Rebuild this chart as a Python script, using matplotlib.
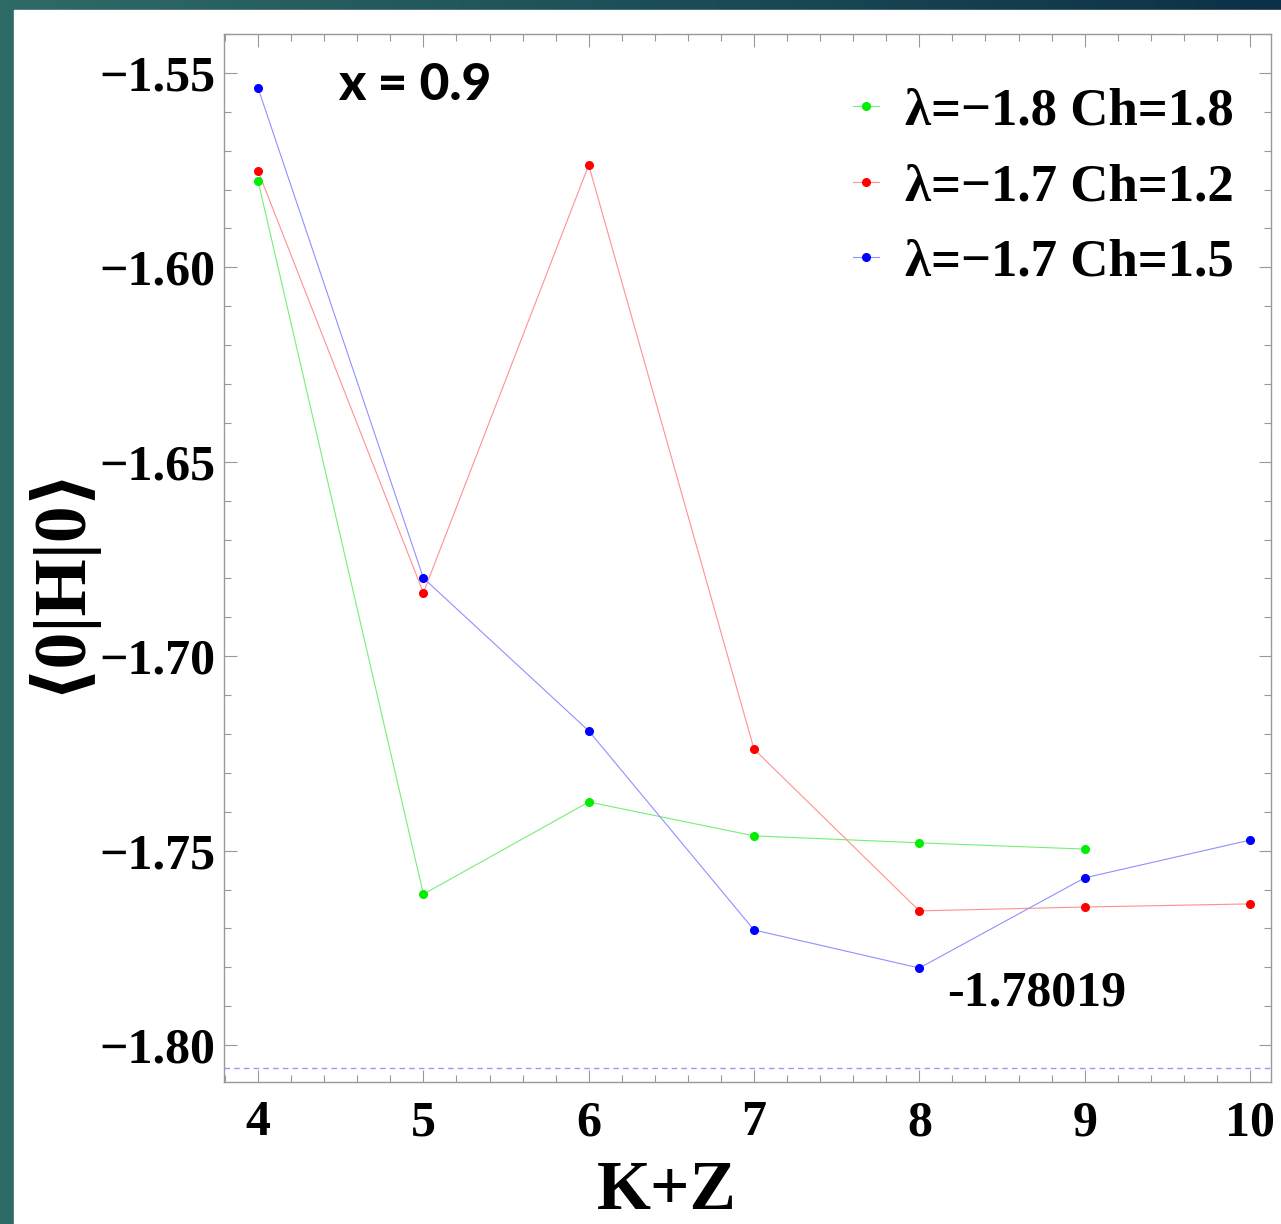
import numpy as np
import matplotlib
matplotlib.use("Agg")
import matplotlib.pyplot as plt
from matplotlib.colors import LinearSegmentedColormap
from matplotlib.ticker import MultipleLocator
from matplotlib.lines import Line2D

# ---- data ----
kz_green = [4, 5, 6, 7, 8, 9]
e_green = [-1.5778, -1.7612, -1.7375, -1.7462, -1.7480, -1.7496]
kz_red = [4, 5, 6, 7, 8, 9, 10]
e_red = [-1.5752, -1.6837, -1.5737, -1.7239, -1.7655, -1.7645, -1.7637]
kz_blue = [4, 5, 6, 7, 8, 9, 10]
e_blue = [-1.5539, -1.6799, -1.7192, -1.7704, -1.78019, -1.7570, -1.7473]
labels = ["λ=−1.8 Ch=1.8", "λ=−1.7 Ch=1.2", "λ=−1.7 Ch=1.5"]
ref_line = -1.8059
annot_text = "-1.78019"
xticks = [4, 5, 6, 7, 8, 9, 10]
yticks = [-1.80, -1.75, -1.70, -1.65, -1.60, -1.55]

W, H = 1281, 1224
fig = plt.figure(figsize=(W / 100, H / 100), dpi=100)

# background gradient frame
bg = fig.add_axes([0, 0, 1, 1], zorder=-10)
cmap = LinearSegmentedColormap.from_list("bg", ["#2f6b66", "#1d4f58", "#0c3046"])
grad = np.linspace(0, 1, 256)[None, :]
bg.imshow(grad, aspect="auto", cmap=cmap, extent=[0, 1, 0, 1])
bg.add_patch(plt.Rectangle((14 / W, 0), 1, 1 - 10 / H, color="white", zorder=2))
bg.set_xlim(0, 1)
bg.set_ylim(0, 1)
bg.axis("off")

serif = ["Liberation Serif", "DejaVu Serif", "DejaVu Sans"]

ax = fig.add_axes([224 / W, 1 - 1082 / H, (1271 - 224) / W, (1082 - 34) / H])
ax.set_facecolor("white")

series = [
    (kz_green, e_green, "#77ee77", "#00ee00"),
    (kz_red, e_red, "#ff9090", "#ff0000"),
    (kz_blue, e_blue, "#9090ff", "#0000ff"),
]
handles = []
for (xs, ys, lc, mc), lab in zip(series, labels):
    ax.plot(xs, ys, "-", color=lc, lw=0.8, zorder=2)
    ax.plot(xs, ys, "o", color=mc, ms=5.5, zorder=3)
    handles.append(Line2D([], [], color=lc, lw=0.8, marker="o", mfc=mc, mec=mc, ms=5.5))

ax.axhline(ref_line, color="#9999ff", lw=1.0, ls=(0, (4, 3)), zorder=1)

ax.set_xlim(3.794, 10.127)
ax.set_ylim(-1.8095, -1.54)
ax.set_xticks(xticks)
ax.set_yticks(yticks)
ax.set_xticklabels([str(v) for v in xticks])
ax.set_yticklabels(["\u2212%.2f" % abs(v) for v in yticks])
ax.xaxis.set_minor_locator(MultipleLocator(0.2))
ax.yaxis.set_minor_locator(MultipleLocator(0.01))
ax.tick_params(which="both", direction="in", top=True, right=True, color="#999999", width=0.8)
ax.tick_params(which="major", length=9)
ax.tick_params(which="minor", length=5)
ax.tick_params(axis="y", which="major", pad=6)
ax.tick_params(axis="x", which="major", pad=13)
for lab in ax.get_xticklabels() + ax.get_yticklabels():
    lab.set_family(serif)
    lab.set_fontweight("bold")
    lab.set_fontsize(36)
for sp in ax.spines.values():
    sp.set_color("#999999")
    sp.set_linewidth(1.0)

leg = ax.legend(handles, labels, loc="upper right", bbox_to_anchor=(1.0, 0.984),
                frameon=False, handlelength=0.5, handletextpad=0.5,
                labelspacing=0.52, borderaxespad=0.3,
                prop={"family": serif, "weight": "bold", "size": 38})

fig.text(338 / W, 1 - 86 / H, "x = 0.9", ha="left", va="center",
         fontsize=37, fontweight="black", family=["Lato", "DejaVu Sans"])

ax.annotate(annot_text, xy=(8, -1.78019), xytext=(8.17, -1.7867), ha="left", va="center",
            fontsize=36, fontweight="bold", family=serif)

fig.text(58 / W, 1 - 579 / H, "\u27e80|H|0\u27e9", rotation=90, ha="center", va="center",
         fontsize=53, fontweight="bold", family=serif)
fig.text(667 / W, 1 - 1192 / H, "K+Z", ha="center", va="center",
         fontsize=50, fontweight="bold", family=serif)

fig.savefig("out.png", dpi=100)
